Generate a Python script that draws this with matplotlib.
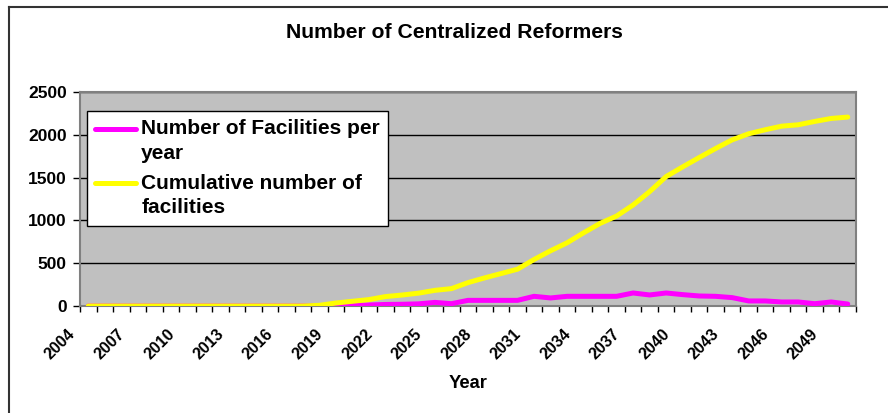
import matplotlib
matplotlib.use("Agg")
import matplotlib.pyplot as plt
from matplotlib.lines import Line2D
from matplotlib.legend_handler import HandlerLine2D
from matplotlib.transforms import ScaledTranslation

plt.rcParams['font.family'] = ['Liberation Sans', 'DejaVu Sans']

years = list(range(2004, 2051))

per_year = [0, 0, 0, 0, 0, 0, 0, 0, 0, 0, 0, 0, 0, 0, 0,
            3, 8, 12, 18, 20, 25, 42, 27, 66, 66, 66, 66,
            113, 94, 113, 113, 113, 113, 152, 129, 152, 133,
            117, 113, 98, 59, 59, 47, 47, 27, 47, 23]

cumulative = [0, 0, 0, 0, 0, 0, 0, 0, 0, 0, 0, 0, 0, 0,
              8, 35, 55, 75, 110, 128, 150, 183, 203, 273, 328, 379, 430,
              543, 645, 738, 855, 965, 1051, 1180, 1336, 1512, 1625,
              1734, 1840, 1941, 2012, 2059, 2101, 2117, 2156, 2191, 2207]

label_years = years[::3]
y_ticks = [0, 500, 1000, 1500, 2000, 2500]

W, H = 888, 413
fig = plt.figure(figsize=(W / 100, H / 100), dpi=100)

# plot area in pixels: left 80, right 856, top 92, bottom 306
ax = fig.add_axes([80 / W, 1 - 306 / H, 776 / W, 214 / H])
ax.set_facecolor('#C0C0C0')

x = list(range(len(years)))
ax.plot(x, per_year, color='#FF00FF', lw=3.6, solid_capstyle='round',
        label='Number of Facilities per\nyear', zorder=3)
ax.plot(x, cumulative, color='#FFFF00', lw=3.6, solid_capstyle='round',
        label='Cumulative number of\nfacilities', zorder=4)

ax.set_xlim(-0.5, len(years) - 0.5)
ax.set_ylim(0, 2500)

# gridlines
ax.set_yticks(y_ticks)
ax.yaxis.grid(True, color='black', lw=1)
ax.set_axisbelow(True)
ax.set_yticklabels([str(v) for v in y_ticks], fontsize=12.5, fontweight='bold')
ax.tick_params(axis='y', direction='out', length=5, width=1, pad=4.5)

# category ticks between years, labels every 3rd year
ax.set_xticks([i - 0.5 for i in range(len(years) + 1)])
ax.set_xticklabels([])
ax.tick_params(axis='x', which='major', direction='out', length=4, width=1)
ax.set_xticks([years.index(y) for y in label_years], minor=True)
ax.set_xticklabels([str(y) for y in label_years], minor=True, rotation=45,
                   ha='right', va='top', fontsize=11.5, fontweight='bold')
ax.tick_params(axis='x', which='minor', length=0, pad=0)
offset = ScaledTranslation(-10 / 100, -20 / 100, fig.dpi_scale_trans)
for lab in ax.get_xticklabels(minor=True):
    lab.set_transform(lab.get_transform() + offset)

for s in ax.spines.values():
    s.set_color('#808080')
    s.set_linewidth(1.5)

ax.set_xlabel('Year', fontsize=13.2, fontweight='bold')
ax.xaxis.set_label_coords(0.5, (306 - 384) / 214)
ax.xaxis.label.set_va('center')

fig.text(454 / W, 1 - 33 / H, 'Number of Centralized Reformers',
         ha='center', va='center', fontsize=15.2, fontweight='bold')


# legend line sits next to the first text line
class TopLine(HandlerLine2D):
    def create_artists(self, legend, orig_handle, xdescent, ydescent,
                       width, height, fontsize, trans):
        arts = super().create_artists(legend, orig_handle, xdescent, ydescent,
                                      width, height, fontsize, trans)
        for a in arts:
            yd = a.get_ydata()
            a.set_ydata([v + 0.6 * fontsize for v in yd])
        return arts


leg = ax.legend(loc='upper left', bbox_to_anchor=(87 / W, 1 - 111 / H),
                bbox_transform=fig.transFigure, borderaxespad=0,
                prop={'size': 15, 'weight': 'bold'}, frameon=True,
                fancybox=False, framealpha=1, edgecolor='black',
                handlelength=1.95, handletextpad=0.25, borderpad=0.4,
                labelspacing=0.55,
                handler_map={Line2D: TopLine()})
leg.get_frame().set_linewidth(1)
for t in leg.get_texts():
    t.set_linespacing(1.35)
leg.set_zorder(5)

# outer chart border (only top and left fall inside the image)
fig.add_artist(Line2D([9 / W, 9 / W], [1 - 7 / H, 0], color='#333333', lw=1.5,
                      transform=fig.transFigure))
fig.add_artist(Line2D([9 / W, 1], [1 - 7 / H, 1 - 7 / H], color='#333333', lw=1.5,
                      transform=fig.transFigure))

fig.savefig('out.png', dpi=100)
